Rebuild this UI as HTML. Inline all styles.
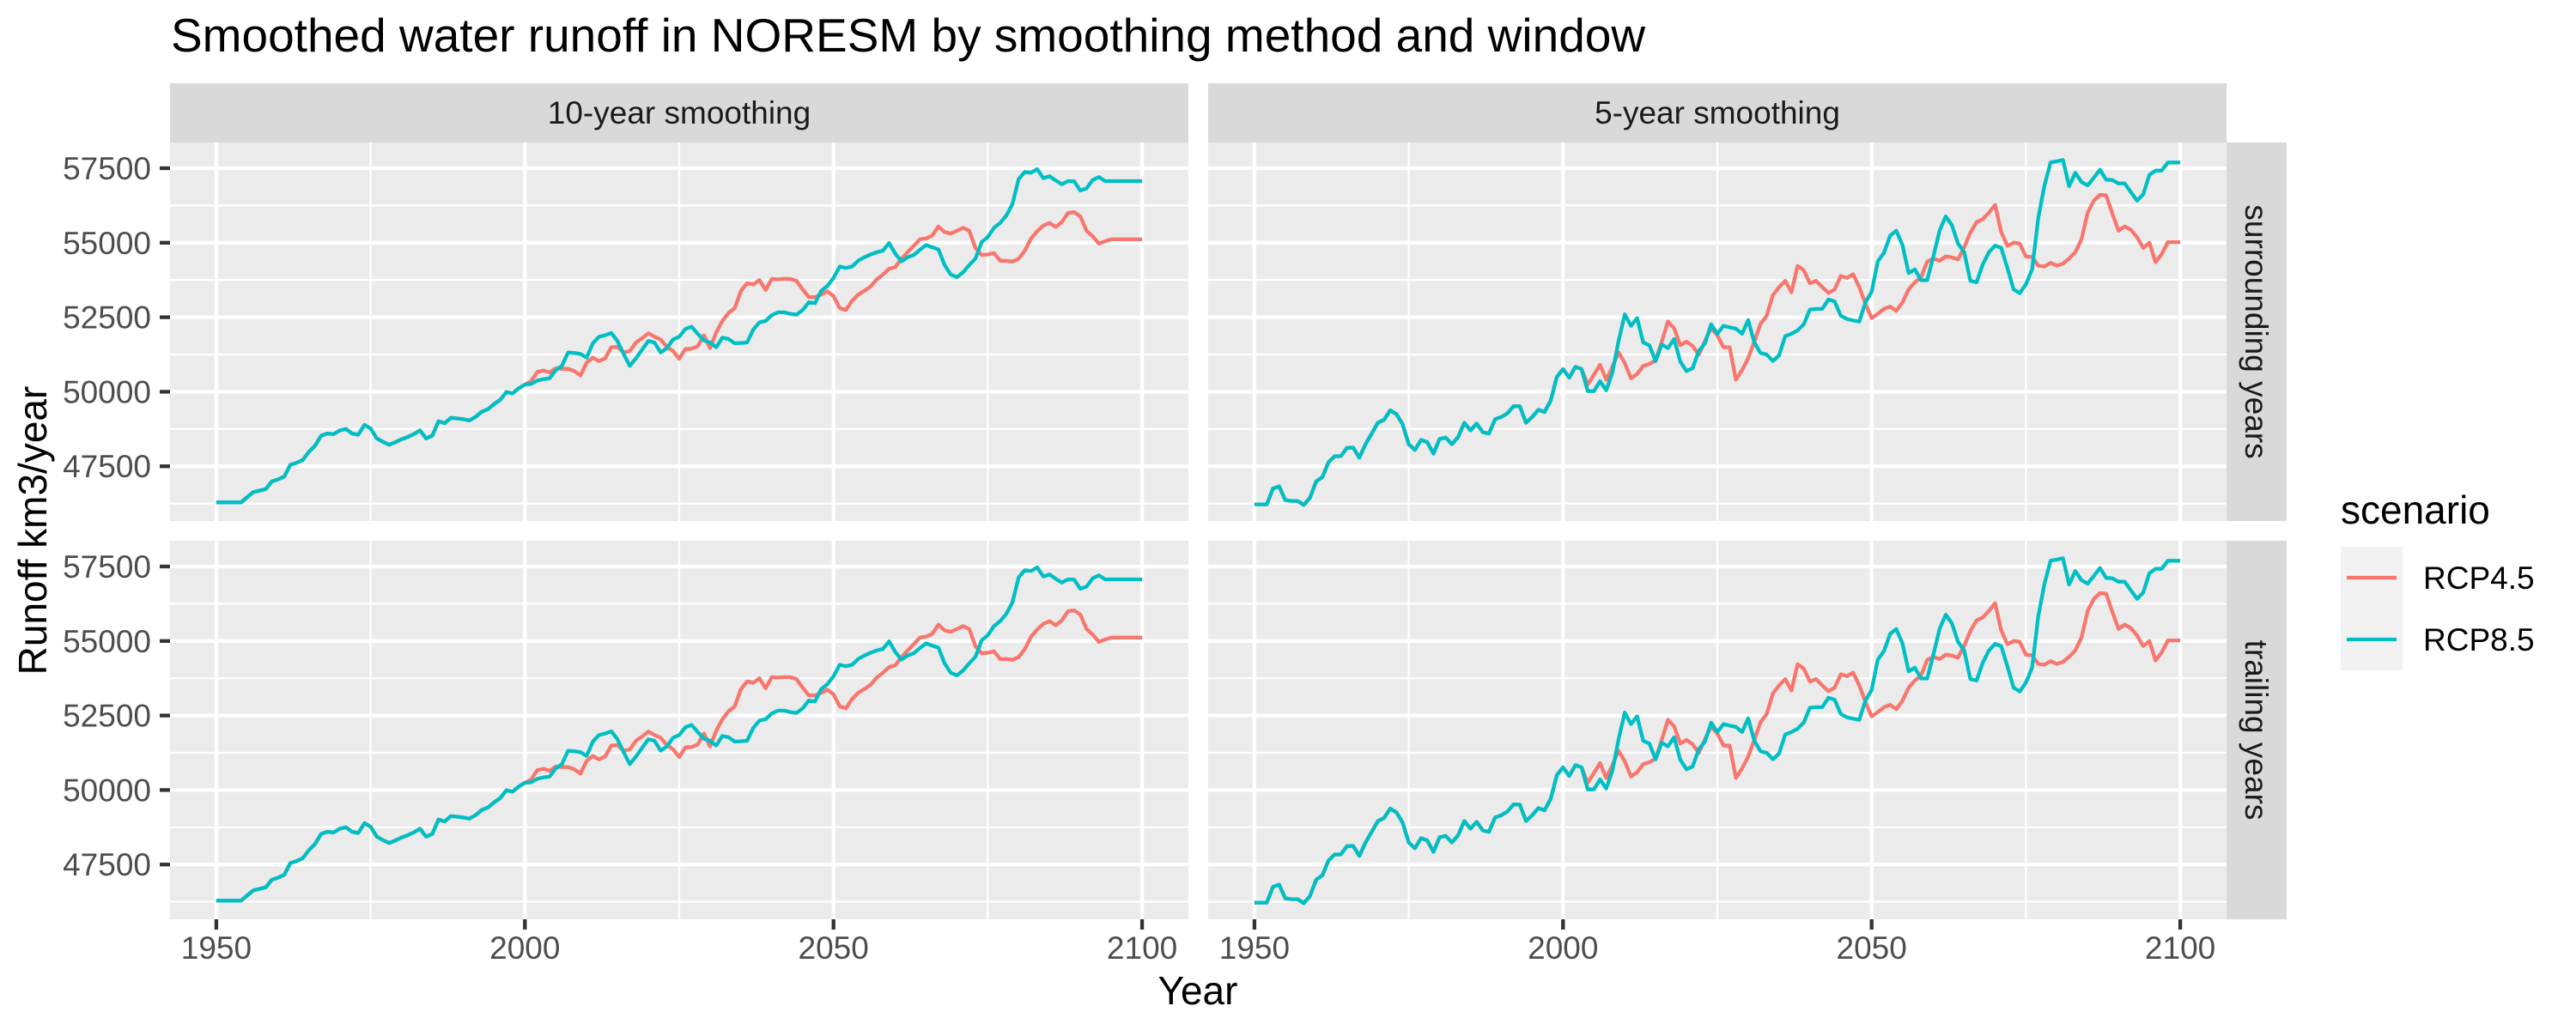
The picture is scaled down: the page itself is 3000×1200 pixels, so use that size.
<!DOCTYPE html>
<html><head><meta charset="utf-8"><style>
html,body{margin:0;padding:0;background:#fff;}
svg{display:block;font-family:"Liberation Sans",Arial,sans-serif;}
</style></head><body>
<svg id="chart" width="3000" height="1200" viewBox="0 0 3000 1200" xmlns="http://www.w3.org/2000/svg">
<rect x="0" y="0" width="3000" height="1200" fill="#fff"/>
<text x="199" y="60" font-size="55" fill="#000">Smoothed water runoff in NORESM by smoothing method and window</text>
<g id="panels"></g>
<text x="1395" y="1170" font-size="46" fill="#000" text-anchor="middle">Year</text>
<text transform="translate(54,618) rotate(-90)" font-size="46" fill="#000" text-anchor="middle">Runoff km3/year</text>
<g transform="translate(-5,59)">
<text x="2731" y="551" font-size="46" fill="#000">scenario</text>
<rect x="2731" y="578" width="72" height="72" fill="#f2f2f2"/>
<rect x="2731" y="650" width="72" height="72" fill="#f2f2f2"/>
<line x1="2738" y1="614" x2="2796" y2="614" stroke="#F8766D" stroke-width="4.3"/>
<line x1="2738" y1="686" x2="2796" y2="686" stroke="#00BFC4" stroke-width="4.3"/>
<text x="2827" y="627" font-size="37" fill="#000">RCP4.5</text>
<text x="2827" y="699" font-size="37" fill="#000">RCP8.5</text>
</g>
</svg>
<script>
const startYear = 1950;
const endYear = 2100;
const xTicks = [1950, 2000, 2050, 2100];
const xMinor = [1975, 2025, 2075];
const yTicks = [47500, 50000, 52500, 55000, 57500];
const yMinor = [46250, 48750, 51250, 53750, 56250];
const colTitles = ["10-year smoothing", "5-year smoothing"];
const rowTitles = ["surrounding years", "trailing years"];

const rcp85_10 = [46289,46289,46289,46289,46289,
46462,46635,46683,46731,46991,47058,47154,47549,47616,47712,
47981,48193,48529,48597,48577,48702,48750,48597,48558,48885,
48770,48433,48318,48222,48308,48404,48481,48577,48702,48433,
48529,49010,48943,49126,49106,49078,49039,49155,49328,49414,
49587,49731,49991,49943,50116,50241,50260,50375,50423,50452,
50722,50866,51318,51298,51270,51145,51625,51846,51895,51971,
51702,51270,50866,51125,51414,51702,51654,51318,51462,51750,
51846,52106,52183,51943,51722,51654,51491,51818,51770,51625,
51635,51654,52087,52327,52375,52568,52664,52664,52616,52587,
52741,53000,52971,53385,53548,53817,54202,54154,54202,54394,
54510,54606,54683,54731,54990,54635,54375,54510,54587,54760,
54923,54846,54779,54250,53933,53846,54010,54250,54471,55019,
55192,55500,55664,55913,56298,57135,57375,57346,57471,57163,
57231,57087,56962,57067,57058,56750,56827,57106,57202,57067,
57067,57067,57067,57067,57067,57067];

const rcp45_10_own = [
50356,50664,50712,50645,50789,50770,50770,50693,50548,50981,
51145,51029,51125,51491,51510,51318,51366,51654,51798,51962,
51846,51750,51510,51366,51106,51433,51443,51529,51895,51462,
51991,52375,52644,52808,53385,53645,53596,53750,53414,53789,
53769,53789,53789,53721,53433,53173,53173,53260,53366,53212,
52808,52741,53048,53260,53385,53529,53769,53933,54125,54183,
54462,54683,54894,55115,55145,55241,55548,55356,55308,55404,
55500,55404,54827,54587,54606,54654,54394,54394,54366,54462,
54731,55145,55385,55577,55664,55529,55692,56000,56029,55885,
55404,55212,54971,55048,55115,55115,55115,55115,55115,55115];
const rcp45_10 = rcp85_10.slice(0, 51).concat(rcp45_10_own);

const rcp85_5 = [46222,46222,46222,46751,46827,46365,46337,46337,46202,46443,
46991,47135,47635,47837,47837,48116,48125,47789,48241,48597,
48962,49058,49376,49251,48914,48241,48049,48385,48308,47924,
48414,48462,48241,48481,48962,48702,48933,48645,48597,49078,
49155,49279,49520,49510,48962,49155,49395,49318,49702,50500,
50760,50472,50837,50760,50020,50020,50356,50049,50645,51702,
52597,52212,52472,51654,51558,51029,51587,51462,51770,51010,
50693,50789,51366,51626,52260,51943,52212,52160,52116,51943,
52404,51654,51298,51250,51029,51221,51866,51943,52058,52260,
52760,52779,52779,53097,53029,52548,52443,52395,52356,53000,
53356,54376,54664,55241,55404,54923,53981,54106,53741,53741,
54539,55404,55885,55596,54971,54683,53722,53673,54269,54683,
54904,54827,54154,53433,53308,53606,54106,55837,56923,57693,
57731,57779,56894,57346,57038,56923,57183,57452,57116,57106,
56990,56990,56702,56414,56625,57279,57423,57423,57693,57693,
57693];

const rcp45_5_own = [50241,50568,50904,50404,50837,51318,
50962,50452,50596,50866,50933,51048,51683,52356,52135,51558,
51683,51539,51241,51702,52135,51895,51491,51491,50404,50722,
51125,51683,52279,52548,53241,53510,53721,53337,54222,54077,
53645,53721,53510,53318,53433,53885,53818,53943,53510,52952,
52471,52616,52779,52856,52712,53000,53433,53673,53837,54366,
54471,54394,54539,54510,54442,54846,55337,55692,55789,56010,
56269,55356,54894,55000,54971,54539,54519,54231,54202,54327,
54231,54298,54471,54683,55115,56010,56414,56606,56587,55981,
55404,55548,55433,55183,54827,55000,54346,54616,55019,55019,
55019];
const rcp45_5 = rcp85_5.slice(0, 54).concat(rcp45_5_own);

// trailing-years panels (visually identical to surrounding in reference)
const rcp85_10_trail = rcp85_10.slice();
const rcp45_10_trail = rcp45_10.slice();
const rcp85_5_trail = rcp85_5.slice();
const rcp45_5_trail = rcp45_5.slice();

const NS = "http://www.w3.org/2000/svg";
const panelsG = document.getElementById("panels");
const panelW = 1186, panelH = 441;
const colX = [198, 1407];
const rowY = [166, 630];
const xDom = [1942.5, 2107.5];
const yDom = [45663, 58364];
function mk(tag, attrs, parent) {
  const e = document.createElementNS(NS, tag);
  for (const k in attrs) e.setAttribute(k, attrs[k]);
  (parent || panelsG).appendChild(e);
  return e;
}
function xs(c, yr) { return colX[c] + (yr - xDom[0]) / (xDom[1] - xDom[0]) * panelW; }
function ys(r, v) { return rowY[r] + panelH - (v - yDom[0]) / (yDom[1] - yDom[0]) * panelH; }

const seriesGrid = [
  [[rcp45_10, rcp85_10], [rcp45_5, rcp85_5]],
  [[rcp45_10_trail, rcp85_10_trail], [rcp45_5_trail, rcp85_5_trail]]
];
const colors = ["#F8766D", "#00BFC4"];
const sNames = ["rcp45", "rcp85"];

for (let r = 0; r < 2; r++) {
  for (let c = 0; c < 2; c++) {
    const bg = mk("rect", {x: colX[c], y: rowY[r], width: panelW, height: panelH, fill: "#EBEBEB"});
    
    
    yMinor.forEach(v => {
      const l = mk("line", {x1: colX[c], x2: colX[c] + panelW, y1: ys(r, v), y2: ys(r, v), stroke: "#fff", "stroke-width": 2.2});
      
      
    });
    xMinor.forEach(v => {
      const l = mk("line", {x1: xs(c, v), x2: xs(c, v), y1: rowY[r], y2: rowY[r] + panelH, stroke: "#fff", "stroke-width": 2.2});
      
      
    });
    yTicks.forEach(v => {
      const l = mk("line", {x1: colX[c], x2: colX[c] + panelW, y1: ys(r, v), y2: ys(r, v), stroke: "#fff", "stroke-width": 4.3});
      
      
    });
    xTicks.forEach(v => {
      const l = mk("line", {x1: xs(c, v), x2: xs(c, v), y1: rowY[r], y2: rowY[r] + panelH, stroke: "#fff", "stroke-width": 4.3});
      
      
    });
    for (let s = 0; s < 2; s++) {
      const vals = seriesGrid[r][c][s];
      let d = "";
      vals.forEach((v, i) => {
        const yr = startYear + i;
        if (yr > endYear) return;
        d += (i ? "L" : "M") + xs(c, yr).toFixed(1) + " " + ys(r, v).toFixed(1);
      });
      const p = mk("path", {d: d, fill: "none", stroke: colors[s], "stroke-width": 4.3, "stroke-linejoin": "round"});
      
      
    }
  }
}
// top strips
for (let c = 0; c < 2; c++) {
  const st = mk("rect", {x: colX[c], y: 97, width: panelW, height: 69, fill: "#D9D9D9"});
  
  
  const t = mk("text", {x: colX[c] + panelW / 2, y: 144, "font-size": 37, fill: "#1A1A1A", "text-anchor": "middle"});
  t.textContent = colTitles[c];
  
  
}
// right strips
for (let r = 0; r < 2; r++) {
  const st = mk("rect", {x: 2593, y: rowY[r], width: 70, height: panelH, fill: "#D9D9D9"});
  
  
  const cy = rowY[r] + panelH / 2;
  const t = mk("text", {transform: "translate(2615," + cy + ") rotate(90)", "font-size": 37, fill: "#1A1A1A", "text-anchor": "middle"});
  t.textContent = rowTitles[r];
  
  
}
// y axis ticks
for (let r = 0; r < 2; r++) {
  yTicks.forEach(v => {
    const y = ys(r, v);
    const tk = mk("line", {x1: 186, x2: 198, y1: y, y2: y, stroke: "#333", "stroke-width": 4.3});
    
    
    const t = mk("text", {x: 176, y: y + 13, "font-size": 37, fill: "#4D4D4D", "text-anchor": "end"});
    t.textContent = String(v);
    
    
  });
}
// x axis ticks
for (let c = 0; c < 2; c++) {
  xTicks.forEach(v => {
    const x = xs(c, v);
    const tk = mk("line", {x1: x, x2: x, y1: 1071, y2: 1083, stroke: "#333", "stroke-width": 4.3});
    
    
    const t = mk("text", {x: x, y: 1117, "font-size": 37, fill: "#4D4D4D", "text-anchor": "middle"});
    t.textContent = String(v);
    
    
  });
}
</script>
</body></html>
